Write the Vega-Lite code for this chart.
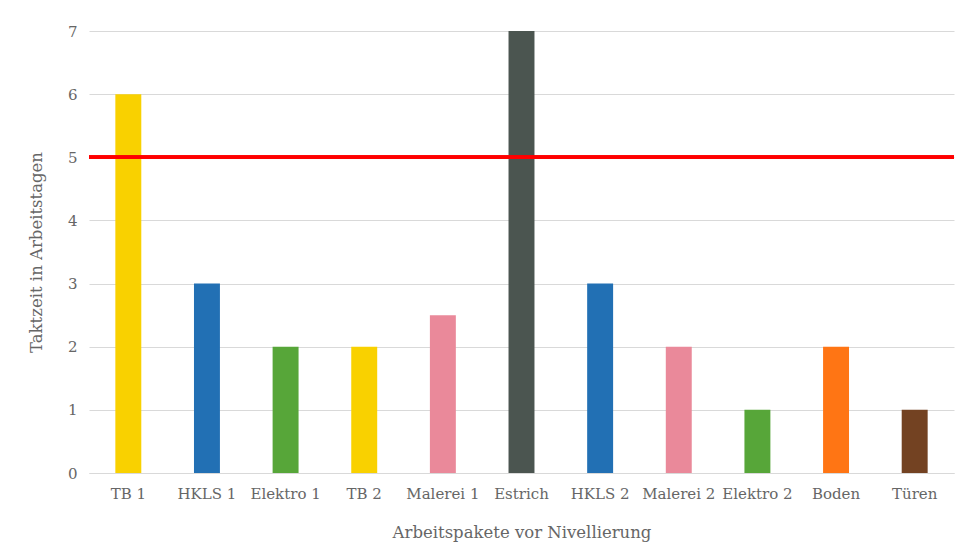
{
  "$schema": "https://vega.github.io/schema/vega-lite/v6.json",
  "width": 865,
  "height": 442,
  "autosize": {"type": "none"},
  "padding": {"left": 89, "top": 31, "right": 6, "bottom": 85},
  "background": "white",
  "config": {
    "view": {"stroke": null},
    "font": "DejaVu Serif",
    "axis": {
      "labelFont": "DejaVu Serif",
      "titleFont": "DejaVu Serif",
      "labelColor": "#666666",
      "titleColor": "#666666",
      "titleFontWeight": "normal",
      "gridColor": "#d9d9d9",
      "domainColor": "#d9d9d9",
      "ticks": false
    }
  },
  "data": {
    "values": [
      {"paket": "TB 1", "tage": 6, "farbe": "#F9D100"},
      {"paket": "HKLS 1", "tage": 3, "farbe": "#2270B4"},
      {"paket": "Elektro 1", "tage": 2, "farbe": "#57A639"},
      {"paket": "TB 2", "tage": 2, "farbe": "#F9D100"},
      {"paket": "Malerei 1", "tage": 2.5, "farbe": "#EA899A"},
      {"paket": "Estrich", "tage": 7, "farbe": "#4B5550"},
      {"paket": "HKLS 2", "tage": 3, "farbe": "#2270B4"},
      {"paket": "Malerei 2", "tage": 2, "farbe": "#EA899A"},
      {"paket": "Elektro 2", "tage": 1, "farbe": "#57A639"},
      {"paket": "Boden", "tage": 2, "farbe": "#FF7514"},
      {"paket": "Türen", "tage": 1, "farbe": "#734222"}
    ]
  },
  "layer": [
    {
      "mark": {"type": "bar", "width": {"band": 0.33}},
      "encoding": {
        "x": {
          "field": "paket",
          "type": "nominal",
          "sort": null,
          "scale": {"paddingInner": 0, "paddingOuter": 0},
          "axis": {
            "labelAngle": 0,
            "labelFontSize": 15,
            "labelPadding": 13,
            "title": "Arbeitspakete vor Nivellierung",
            "titleFontSize": 16.5,
            "titlePadding": 23,
            "grid": false
          }
        },
        "y": {
          "field": "tage",
          "type": "quantitative",
          "scale": {"domain": [0, 7]},
          "axis": {
            "values": [0, 1, 2, 3, 4, 5, 6, 7],
            "labelFontSize": 15,
            "labelPadding": 12,
            "title": "Taktzeit in Arbeitstagen",
            "titleFontSize": 16.5,
            "titlePadding": 23,
            "domain": false
          }
        },
        "color": {"field": "farbe", "type": "nominal", "scale": null, "legend": null}
      }
    },
    {
      "mark": {"type": "rule", "color": "#FF0000", "strokeWidth": 3},
      "encoding": {
        "y": {
          "datum": 5,
          "type": "quantitative",
          "axis": {
            "values": [0, 1, 2, 3, 4, 5, 6, 7],
            "labelFontSize": 15,
            "labelPadding": 12,
            "title": "Taktzeit in Arbeitstagen",
            "titleFontSize": 16.5,
            "titlePadding": 23,
            "domain": false
          }
        }
      }
    }
  ]
}
